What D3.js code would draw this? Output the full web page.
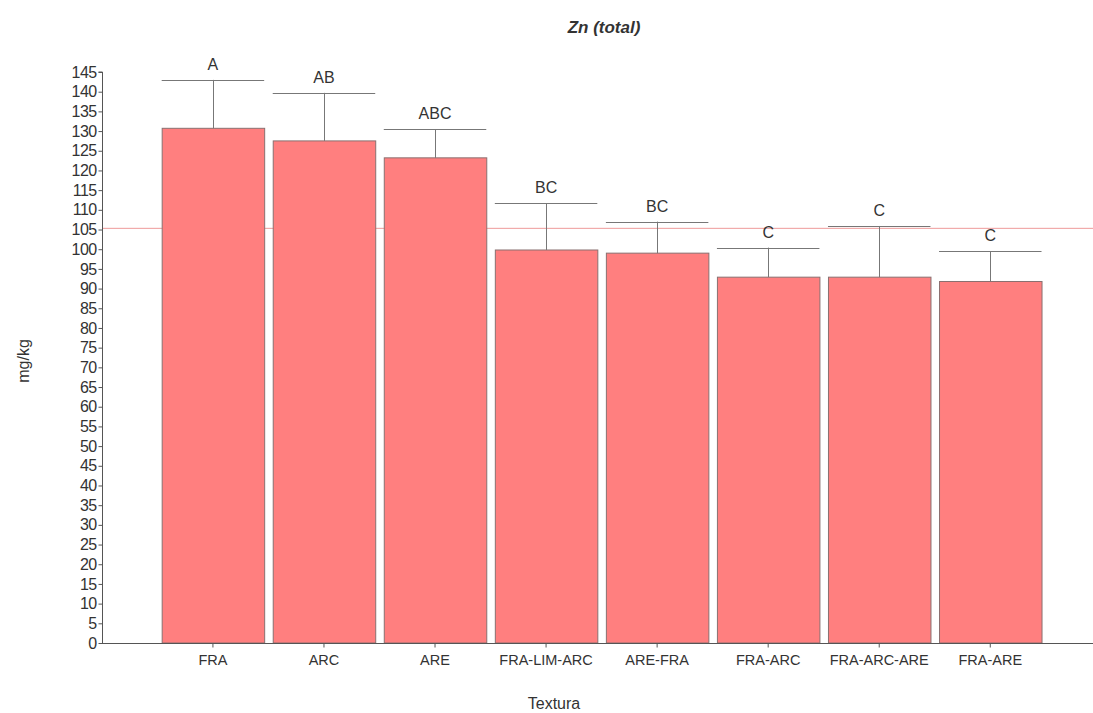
<!DOCTYPE html>
<html>
<head>
<meta charset="utf-8">
<script src="https://cdn.jsdelivr.net/npm/d3@7"></script>
<style>
  html, body { margin: 0; padding: 0; background: #fff; }
  svg { display: block; }
  text { font-family: "Liberation Sans", Arial, sans-serif; fill: #333; }
</style>
</head>
<body>
<svg id="chart" width="1093" height="713"></svg>
<script>
const categories = ["FRA", "ARC", "ARE", "FRA-LIM-ARC", "ARE-FRA", "FRA-ARC", "FRA-ARC-ARE", "FRA-ARE"];
const means = [130.7, 127.5, 123.2, 99.8, 99.0, 92.9, 92.9, 91.8];
const upperErrors = [143.0, 139.7, 130.4, 111.7, 107.0, 100.4, 105.9, 99.5];
const letters = ["A", "AB", "ABC", "BC", "BC", "C", "C", "C"];
const referenceValue = 105.3;
const yTicks = d3.range(0, 146, 5);
const titleText = "Zn (total)";
const xTitle = "Textura";
const yTitle = "mg/kg";

const svg = d3.select("#chart");
const axisX = 102, axisY = 643, rightEdge = 1093;

const x = d3.scaleBand().domain(categories)
  .range([157.4, 1045.8]).paddingInner(0.077).paddingOuter(0.0385);
const y = d3.scaleLinear().domain([0, 145]).range([643, 72]);

// reference line
svg.append("line")
  .attr("x1", axisX).attr("x2", rightEdge)
  .attr("y1", y(referenceValue)).attr("y2", y(referenceValue))
  .attr("stroke", "#ee9a9a").attr("stroke-width", 1);

// bars
svg.selectAll("rect.bar").data(categories).enter().append("rect")
  .attr("class", "bar")
  .attr("x", d => x(d) + 0.5)
  .attr("y", (d, i) => y(means[i]))
  .attr("width", x.bandwidth())
  .attr("height", (d, i) => y(0) - y(means[i]))
  .attr("fill", "#ff7f7f")
  .attr("stroke", "#8a7070").attr("stroke-width", 1);

// error bars
const eg = svg.append("g").attr("stroke", "#777").attr("stroke-width", 1);
categories.forEach((c, i) => {
  const cx = Math.round(x(c) + x.bandwidth() / 2) + 0.5;
  eg.append("line").attr("x1", cx).attr("x2", cx)
    .attr("y1", y(means[i])).attr("y2", y(upperErrors[i]));
  eg.append("line").attr("x1", x(c)).attr("x2", x(c) + x.bandwidth())
    .attr("y1", Math.round(y(upperErrors[i])) + 0.5).attr("y2", Math.round(y(upperErrors[i])) + 0.5);
});

// letters
svg.selectAll("text.letter").data(categories).enter().append("text")
  .attr("class", "letter")
  .attr("x", d => x(d) + x.bandwidth() / 2)
  .attr("y", (d, i) => y(upperErrors[i]) - 10)
  .attr("text-anchor", "middle")
  .attr("font-size", 16)
  .text((d, i) => letters[i]);

// y axis
const yAxis = d3.axisLeft(y).tickValues(yTicks).tickSize(4).tickPadding(2);
const gy = svg.append("g").attr("transform", `translate(${axisX + 0.5},0)`).call(yAxis);
gy.select(".domain").attr("stroke", "#555").attr("d", `M-4,${y(145)}H0V${y(0)}`);
gy.selectAll(".tick line").attr("stroke", "#555");
gy.selectAll(".tick text").attr("font-size", 16).attr("fill", "#333")
  .attr("font-family", "Liberation Sans, Arial, sans-serif").attr("letter-spacing", "-0.6");

// x axis
const xAxis = d3.axisBottom(x).tickSize(4).tickPadding(7).tickSizeOuter(0);
const gx = svg.append("g").attr("transform", `translate(0,${axisY + 0.5})`).call(xAxis);
gx.select(".domain").attr("stroke", "#555").attr("d", `M${axisX},0H${rightEdge}`);
gx.selectAll(".tick line").attr("stroke", "#555");
gx.selectAll(".tick text").attr("font-size", 14.5).attr("fill", "#333")
  .attr("font-family", "Liberation Sans, Arial, sans-serif");

// titles
svg.append("text").attr("x", 604).attr("y", 33).attr("text-anchor", "middle")
  .attr("font-size", 17).attr("font-weight", "bold").attr("font-style", "italic")
  .attr("fill", "#111").text(titleText);
svg.append("text").attr("x", 554).attr("y", 709).attr("text-anchor", "middle")
  .attr("font-size", 16).text(xTitle);
svg.append("text").attr("transform", "translate(29,361) rotate(-90)")
  .attr("text-anchor", "middle").attr("font-size", 16).text(yTitle);
</script>
</body>
</html>
